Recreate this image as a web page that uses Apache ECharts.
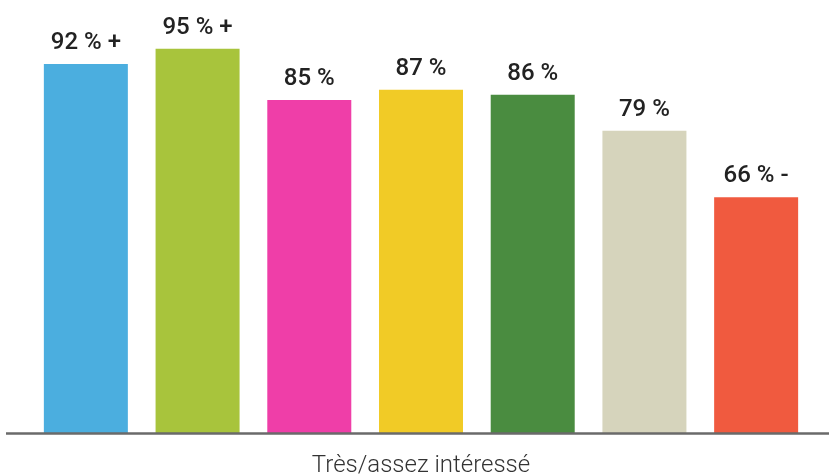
<!DOCTYPE html>
<html><head><meta charset="utf-8">
<script src="https://cdn.jsdelivr.net/npm/echarts@6/dist/echarts.min.js"></script>
<style>html,body{margin:0;padding:0;background:#fff}#c{width:829px;height:475px}</style>
</head><body><div id="c"></div>
<script>
var categories = ["c1","c2","c3","c4","c5","c6","c7"];
var values = [92, 95, 85, 87, 86, 79, 66];
var suffixes = [" +", " +", "", "", "", "", " -"];
var colors = ["#4BAEDF","#A8C43C","#EF3EA8","#F1CB26","#4A8C40","#D6D4BC","#F05A3F"];
var axisTitle = "Très/assez intéressé";

var chart = echarts.init(document.getElementById('c'), null, {renderer:'canvas'});
chart.setOption({
  animation:false,
  grid:{left:30, right:17, top:23, bottom:42, containLabel:false, outerBoundsMode:'none'},
  xAxis:{type:'category', data:categories,
    axisLine:{show:false}, axisTick:{show:false}, axisLabel:{show:false},
    name:axisTitle, nameLocation:'middle', nameGap:21,
    nameTextStyle:{fontFamily:'Roboto', fontWeight:300, fontSize:24, color:'#333', verticalAlign:'top'}},
  yAxis:{type:'value', min:20, max:100, show:false, splitLine:{show:false}},
  series:[{type:'bar', barWidth:84,
    data:values.map(function(v,i){return {value:v, itemStyle:{color:colors[i]}};}),
    label:{show:true, position:'top', distance:9,
      fontFamily:'Roboto', fontWeight:500, fontSize:24, color:'#222',
      formatter:function(p){return p.value + ' %' + suffixes[p.dataIndex];}}
  }],
  graphic:[{type:'line', shape:{x1:6,y1:433.5,x2:829,y2:433.5}, style:{stroke:'#6a6a6a', lineWidth:2.5}, z:100}]
});
</script></body></html>
